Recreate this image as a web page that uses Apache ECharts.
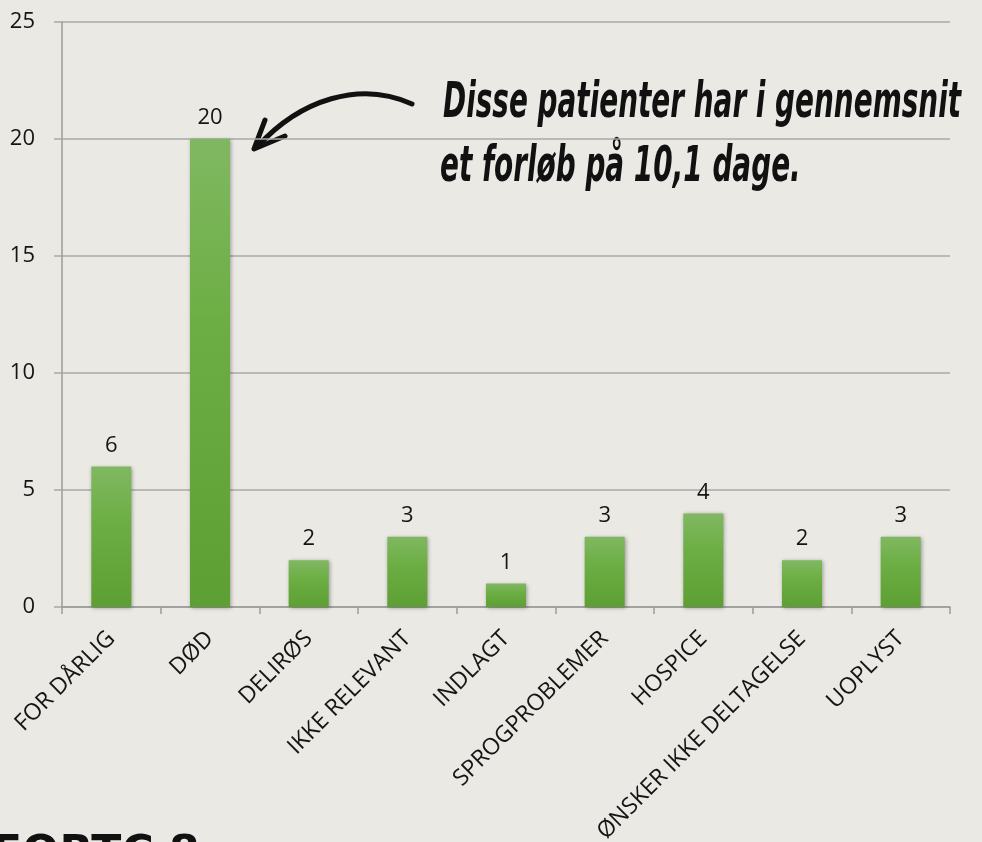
<!DOCTYPE html>
<html><head><meta charset="utf-8">
<script src="https://cdn.jsdelivr.net/npm/echarts@6/dist/echarts.min.js"></script>
<style>html,body{margin:0;padding:0;background:#ebe9e4;overflow:hidden;}#c{width:982px;height:842px;}</style>
</head><body><div id="c"></div>
<script>
const categories = ['FOR DÅRLIG','DØD','DELIRØS','IKKE RELEVANT','INDLAGT','SPROGPROBLEMER','HOSPICE','ØNSKER IKKE DELTAGELSE','UOPLYST'];
const values = [6,20,2,3,1,3,4,2,3];
const yTicks = [0,5,10,15,20,25];
const annotationLines = ['Disse patienter har i gennemsnit','et forløb på 10,1 dage.'];
const footerText = 'EORTC 8';

const chart = echarts.init(document.getElementById('c'), null, {renderer:'canvas'});
const handFont = '"DejaVu Sans Condensed","Liberation Sans Narrow","DejaVu Sans",sans-serif';
chart.setOption({
  backgroundColor:'#ebe9e4',
  animation:false,
  grid:{left:62,right:32,top:22,bottom:235,containLabel:false,outerBoundsMode:'none'},
  xAxis:{type:'category',data:categories,
    axisLine:{lineStyle:{color:'#9a9a9a',width:1.5}},
    axisTick:{show:true,length:7,lineStyle:{color:'#9a9a9a',width:1.5}},
    axisLabel:{rotate:45,interval:0,fontSize:23,color:'#151515',fontFamily:'"Open Sans",sans-serif',margin:28}},
  yAxis:{type:'value',min:yTicks[0],max:yTicks[yTicks.length-1],interval:5,
    axisLine:{show:true,lineStyle:{color:'#9a9a9a',width:1.5}},
    axisTick:{show:true,length:8,lineStyle:{color:'#a8a8a8',width:1.5}},
    splitLine:{lineStyle:{color:'#a8a8a8',width:1.5}},
    axisLabel:{fontSize:22,color:'#151515',fontFamily:'"Open Sans",sans-serif',margin:27}},
  series:[{type:'bar',data:values,barWidth:40,
    itemStyle:{color:new echarts.graphic.LinearGradient(0,0,0,1,[{offset:0,color:'#80b862'},{offset:0.4,color:'#6cae43'},{offset:1,color:'#5e9f34'}]),
      shadowColor:'rgba(0,0,0,0.35)',shadowBlur:4,shadowOffsetX:1,shadowOffsetY:1},
    label:{show:true,position:'top',distance:10,fontSize:22,color:'#151515',fontFamily:'"Open Sans",sans-serif'}}],
  graphic:[
    {type:'text',x:443,y:104,scaleY:1.6,style:{x:0,y:0,text:annotationLines[0],verticalAlign:'middle',font:'italic bold 31px '+handFont,fill:'#111'}},
    {type:'text',x:440,y:168,scaleY:1.6,style:{x:0,y:0,text:annotationLines[1],verticalAlign:'middle',font:'italic bold 31px '+handFont,fill:'#111'}},
    {type:'bezierCurve',shape:{x1:412,y1:104,cpx1:360,cpy1:80,cpx2:300,cpy2:100,x2:258,y2:146},style:{stroke:'#111',lineWidth:5,fill:null,lineCap:'round'}},
    {type:'polyline',shape:{points:[[265,120],[254,149],[285,136]]},style:{stroke:'#111',lineWidth:5,fill:null,lineJoin:'round',lineCap:'round'}},
    {type:'text',left:-8,top:834,style:{text:footerText,font:'bold 44px "DejaVu Sans",sans-serif',fill:'#111'}}
  ]
});
</script></body></html>
